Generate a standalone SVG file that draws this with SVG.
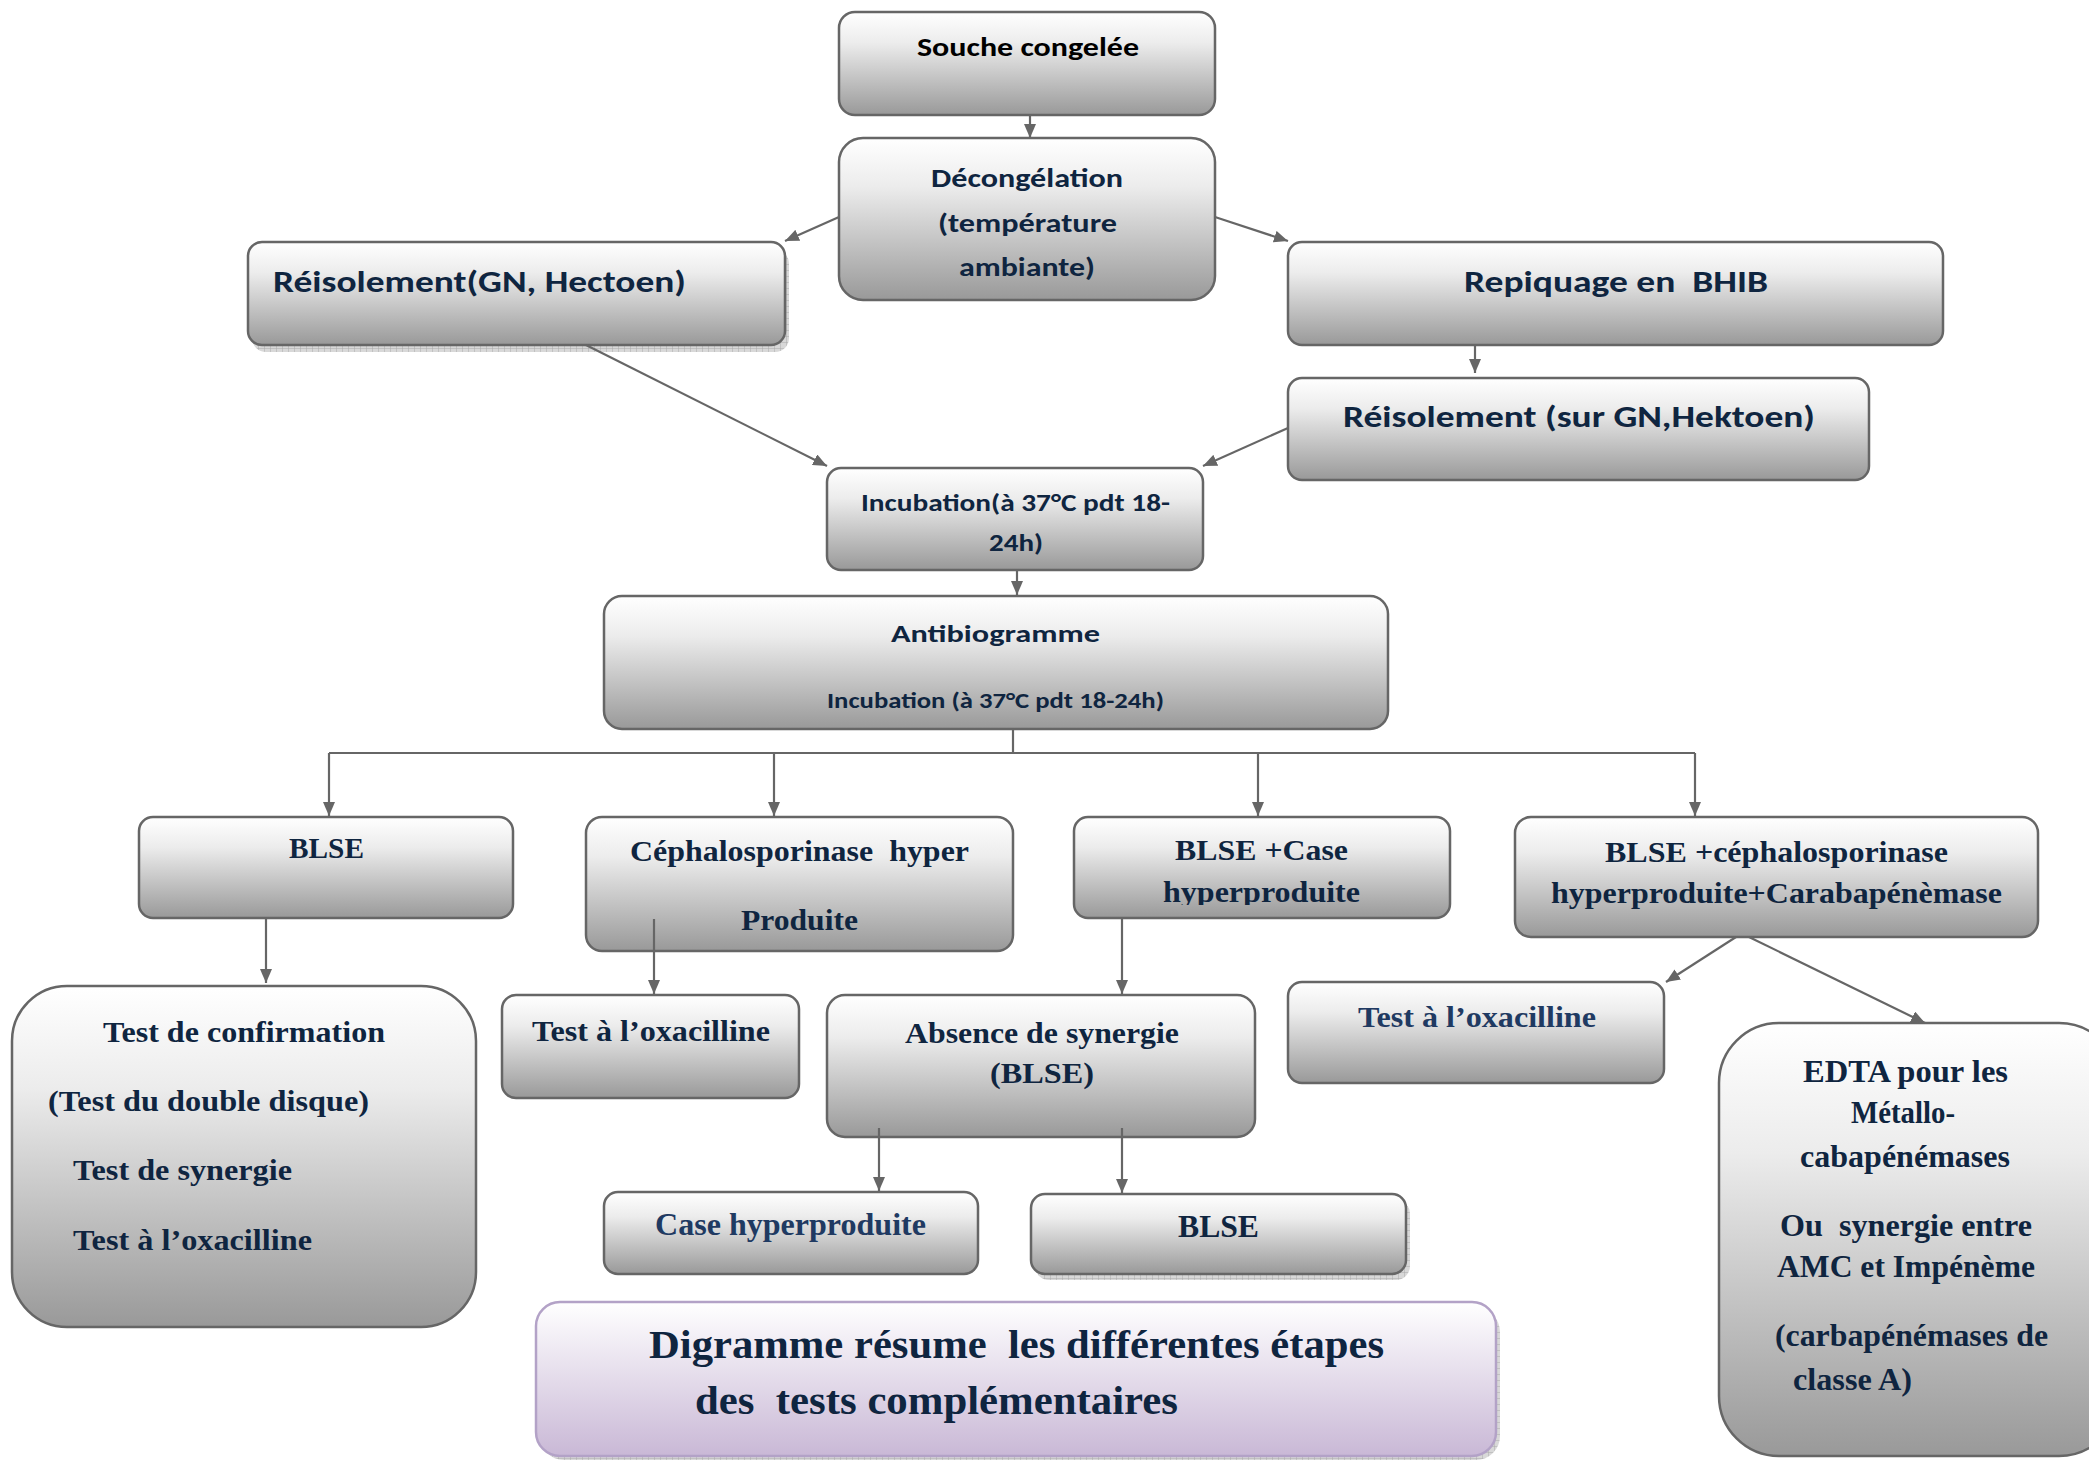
<svg xmlns="http://www.w3.org/2000/svg" width="2089" height="1460" viewBox="0 0 2089 1460">
<defs>
<linearGradient id="g" x1="0" y1="0" x2="0" y2="1">
<stop offset="0" stop-color="#ffffff"/>
<stop offset="0.3" stop-color="#ececec"/>
<stop offset="1" stop-color="#999999"/>
</linearGradient>
<linearGradient id="gp" x1="0" y1="0" x2="0" y2="1">
<stop offset="0" stop-color="#ffffff"/>
<stop offset="1" stop-color="#c9b8d6"/>
</linearGradient>
<pattern id="hatch" width="6" height="6" patternUnits="userSpaceOnUse">
<rect width="6" height="6" fill="#d8d8d8"/>
<path d="M0,0 L6,0 M0,0 L0,6" stroke="#aaaaaa" stroke-width="1"/>
</pattern>
<marker id="ah" viewBox="0 0 14 12" refX="14" refY="6" markerWidth="14" markerHeight="12" markerUnits="userSpaceOnUse" orient="auto">
<path d="M0,0 L14,6 L0,12 Z" fill="#666666"/>
</marker>
<clipPath id="clipHyp"><rect x="1074" y="817" width="376" height="88"/></clipPath>
</defs>
<style>
.box{fill:url(#g);stroke:#666666;stroke-width:2.5}
.tbox{fill:url(#gp);stroke:#b3a2c7;stroke-width:2.5}
.sh{fill:url(#hatch)}
.c{font-family:Carlito,'Open Sans','Liberation Sans',sans-serif;font-weight:bold;fill:#0f2540}
.s{font-family:'Liberation Serif','Times New Roman',serif;font-weight:bold;fill:#0f2540}
.l{fill:#1f3a62}
.ln{fill:none;stroke:#666666;stroke-width:2.2;marker-end:url(#ah)}
.ln0{fill:none;stroke:#666666;stroke-width:2.2}
</style>
<rect width="2089" height="1460" fill="#ffffff"/>

<g id="n-souche">
<rect class="box" x="839" y="12" width="376" height="103" rx="16"/>
<text class="c" x="917" y="56" font-size="27" textLength="222" lengthAdjust="spacingAndGlyphs" style="fill:#000">Souche congelée</text>
</g>
<g id="n-decong">
<rect class="box" x="839" y="138" width="376" height="162" rx="24"/>
<text class="c" x="931" y="187" font-size="27" textLength="192" lengthAdjust="spacingAndGlyphs">Décongélation</text>
<text class="c" x="938" y="232" font-size="27" textLength="179" lengthAdjust="spacingAndGlyphs">(température</text>
<text class="c" x="959" y="276" font-size="27" textLength="136" lengthAdjust="spacingAndGlyphs">ambiante)</text>
</g>
<g id="n-reisol1">
<rect class="sh" x="252" y="250" width="537" height="102" rx="14"/>
<rect class="box" x="248" y="242" width="537" height="103" rx="14"/>
<text class="c" x="273" y="292" font-size="31" textLength="413" lengthAdjust="spacingAndGlyphs">Réisolement(GN, Hectoen)</text>
</g>
<g id="n-repiq">
<rect class="box" x="1288" y="242" width="655" height="103" rx="14"/>
<text class="c" x="1464" y="292" font-size="31" textLength="304" lengthAdjust="spacingAndGlyphs" xml:space="preserve">Repiquage en  BHIB</text>
</g>
<g id="n-reisol2">
<rect class="box" x="1288" y="378" width="581" height="102" rx="14"/>
<text class="c" x="1343" y="427" font-size="31" textLength="472" lengthAdjust="spacingAndGlyphs">Réisolement (sur GN,Hektoen)</text>
</g>
<g id="n-incub">
<rect class="box" x="827" y="468" width="376" height="102" rx="14"/>
<text class="c" x="861" y="511" font-size="24" textLength="309" lengthAdjust="spacingAndGlyphs">Incubation(à 37°C pdt 18-</text>
<text class="c" x="989" y="551" font-size="24" textLength="54" lengthAdjust="spacingAndGlyphs">24h)</text>
</g>
<g id="n-antibio">
<rect class="box" x="604" y="596" width="784" height="133" rx="18"/>
<text class="c" x="891" y="642" font-size="25" textLength="209" lengthAdjust="spacingAndGlyphs">Antibiogramme</text>
<text class="c" x="827" y="708" font-size="22" textLength="337" lengthAdjust="spacingAndGlyphs">Incubation (à 37°C pdt 18-24h)</text>
</g>
<g id="n-blse1">
<rect class="box" x="139" y="817" width="374" height="101" rx="14"/>
<text class="s" x="289" y="858" font-size="29" textLength="75" lengthAdjust="spacingAndGlyphs">BLSE</text>
</g>
<g id="n-ceph">
<rect class="box" x="586" y="817" width="427" height="134" rx="16"/>
<text class="s" x="630" y="861" font-size="30" textLength="339" lengthAdjust="spacingAndGlyphs" xml:space="preserve">Céphalosporinase  hyper</text>
<text class="s" x="741" y="930" font-size="30" textLength="117" lengthAdjust="spacingAndGlyphs">Produite</text>
</g>
<g id="n-blsecase">
<rect class="box" x="1074" y="817" width="376" height="101" rx="14"/>
<text class="s" x="1175" y="860" font-size="30" textLength="173" lengthAdjust="spacingAndGlyphs">BLSE +Case</text>
<text class="s" x="1163" y="902" font-size="30" textLength="197" lengthAdjust="spacingAndGlyphs" clip-path="url(#clipHyp)">hyperproduite</text>
</g>
<g id="n-blseceph">
<rect class="box" x="1515" y="817" width="523" height="120" rx="16"/>
<text class="s" x="1605" y="862" font-size="30" textLength="343" lengthAdjust="spacingAndGlyphs">BLSE +céphalosporinase</text>
<text class="s" x="1551" y="903" font-size="30" textLength="451" lengthAdjust="spacingAndGlyphs">hyperproduite+Carabapénèmase</text>
</g>
<g id="n-testconf">
<rect class="box" x="12" y="986" width="464" height="341" rx="55"/>
<text class="s" x="103" y="1042" font-size="30" textLength="282" lengthAdjust="spacingAndGlyphs">Test de confirmation</text>
<text class="s" x="48" y="1111" font-size="30" textLength="321" lengthAdjust="spacingAndGlyphs">(Test du double disque)</text>
<text class="s" x="73" y="1180" font-size="30" textLength="219" lengthAdjust="spacingAndGlyphs">Test de synergie</text>
<text class="s" x="73" y="1250" font-size="30" textLength="239" lengthAdjust="spacingAndGlyphs">Test à l’oxacilline</text>
</g>
<g id="n-oxa1">
<rect class="box" x="502" y="995" width="297" height="103" rx="14"/>
<text class="s" x="532" y="1041" font-size="30" textLength="238" lengthAdjust="spacingAndGlyphs">Test à l’oxacilline</text>
</g>
<g id="n-absence">
<rect class="box" x="827" y="995" width="428" height="142" rx="18"/>
<text class="s" x="905" y="1043" font-size="30" textLength="274" lengthAdjust="spacingAndGlyphs">Absence de synergie</text>
<text class="s" x="990" y="1083" font-size="30" textLength="104" lengthAdjust="spacingAndGlyphs">(BLSE)</text>
</g>
<g id="n-oxa2">
<rect class="box" x="1288" y="982" width="376" height="101" rx="14"/>
<text class="s l" x="1358" y="1027" font-size="30" textLength="238" lengthAdjust="spacingAndGlyphs">Test à l’oxacilline</text>
</g>
<g id="n-edta">
<rect class="box" x="1719" y="1023" width="400" height="433" rx="60"/>
<text class="s" x="1803" y="1082" font-size="32" textLength="205" lengthAdjust="spacingAndGlyphs">EDTA pour les</text>
<text class="s" x="1851" y="1123" font-size="32" textLength="104" lengthAdjust="spacingAndGlyphs">Métallo-</text>
<text class="s" x="1800" y="1167" font-size="32" textLength="210" lengthAdjust="spacingAndGlyphs">cabapénémases</text>
<text class="s" x="1780" y="1236" font-size="32" textLength="252" lengthAdjust="spacingAndGlyphs" xml:space="preserve">Ou  synergie entre</text>
<text class="s" x="1777" y="1277" font-size="32" textLength="258" lengthAdjust="spacingAndGlyphs">AMC et Impénème</text>
<text class="s" x="1775" y="1346" font-size="32" textLength="273" lengthAdjust="spacingAndGlyphs">(carbapénémases de</text>
<text class="s" x="1793" y="1390" font-size="32" textLength="119" lengthAdjust="spacingAndGlyphs">classe A)</text>
</g>
<g id="n-casehyp">
<rect class="box" x="604" y="1192" width="374" height="82" rx="14"/>
<text class="s l" x="655" y="1235" font-size="31" textLength="271" lengthAdjust="spacingAndGlyphs">Case hyperproduite</text>
</g>
<g id="n-blse2">
<rect class="sh" x="1035" y="1200" width="375" height="80" rx="14"/>
<rect class="box" x="1031" y="1194" width="375" height="80" rx="14"/>
<text class="s" x="1178" y="1237" font-size="31" textLength="81" lengthAdjust="spacingAndGlyphs">BLSE</text>
</g>
<g id="n-title">
<rect class="sh" x="540" y="1308" width="960" height="152" rx="24"/>
<rect class="tbox" x="536" y="1302" width="960" height="154" rx="24"/>
<text class="s" x="649" y="1358" font-size="41" textLength="735" lengthAdjust="spacingAndGlyphs" xml:space="preserve">Digramme résume  les différentes étapes</text>
<text class="s" x="695" y="1414" font-size="41" textLength="483" lengthAdjust="spacingAndGlyphs" xml:space="preserve">des  tests complémentaires</text>
</g>

<g id="connectors">
<line class="ln" x1="1030" y1="115" x2="1030" y2="138"/>
<line class="ln" x1="839" y1="217" x2="785" y2="241"/>
<line class="ln" x1="1215" y1="217" x2="1288" y2="241"/>
<line class="ln" x1="586" y1="345" x2="827" y2="466"/>
<line class="ln" x1="1475" y1="345" x2="1475" y2="373"/>
<line class="ln" x1="1288" y1="428" x2="1203" y2="466"/>
<line class="ln" x1="1017" y1="570" x2="1017" y2="595"/>
<line class="ln0" x1="1013" y1="729" x2="1013" y2="753"/>
<line class="ln0" x1="329" y1="753" x2="1695" y2="753"/>
<line class="ln" x1="329" y1="753" x2="329" y2="816"/>
<line class="ln" x1="774" y1="753" x2="774" y2="816"/>
<line class="ln" x1="1258" y1="753" x2="1258" y2="816"/>
<line class="ln" x1="1695" y1="753" x2="1695" y2="816"/>
<line class="ln" x1="266" y1="918" x2="266" y2="983"/>
<line class="ln" x1="654" y1="919" x2="654" y2="994"/>
<line class="ln" x1="1122" y1="918" x2="1122" y2="994"/>
<line class="ln" x1="1736" y1="937" x2="1666" y2="982"/>
<line class="ln" x1="1749" y1="937" x2="1925" y2="1023"/>
<line class="ln" x1="879" y1="1128" x2="879" y2="1191"/>
<line class="ln" x1="1122" y1="1128" x2="1122" y2="1193"/>
</g>
</svg>
